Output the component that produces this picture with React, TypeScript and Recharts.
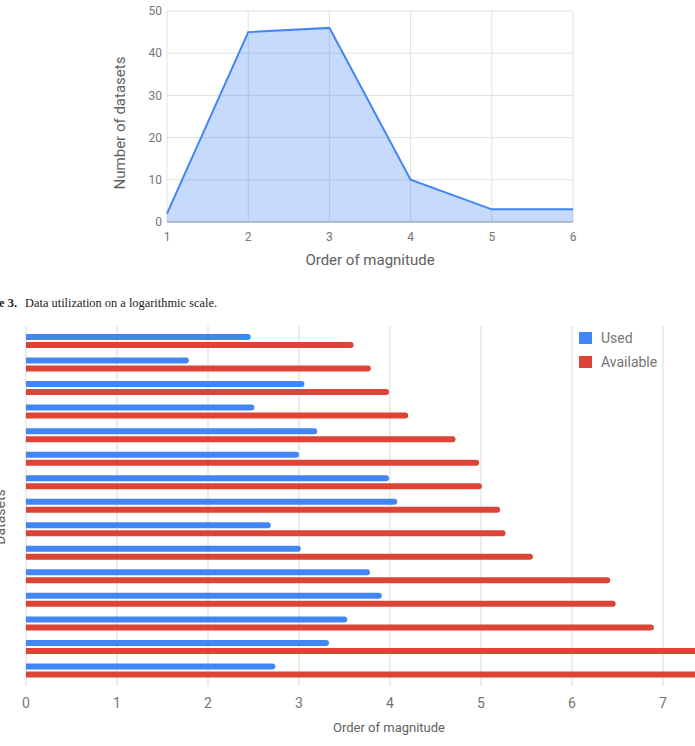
import React from "react";
import {
  AreaChart, Area, BarChart, Bar, XAxis, YAxis, CartesianGrid,
} from "recharts";

// top chart: how many datasets per order of magnitude
const magnitudes = [1, 2, 3, 4, 5, 6];
const datasetCounts = [2, 45, 46, 10, 3, 3];
const countTicks = [0, 10, 20, 30, 40, 50];

// bottom chart: used vs available data per dataset (log10 scale)
const datasetIds = ["D1", "D2", "D3", "D4", "D5", "D6", "D7", "D8", "D9", "D10", "D11", "D12", "D13", "D14", "D15"];
const usedValues = [2.47, 1.79, 3.06, 2.51, 3.2, 3.0, 3.99, 4.08, 2.69, 3.02, 3.78, 3.91, 3.53, 3.33, 2.74];
const availableValues = [3.6, 3.79, 3.99, 4.2, 4.72, 4.98, 5.01, 5.21, 5.27, 5.57, 6.42, 6.48, 6.9, 7.6, 7.9];
const orderTicks = [0, 1, 2, 3, 4, 5, 6, 7, 8];

const BLUE = "#4285f4";
const RED = "#db4437";
const GRID = "#e0e0e0";
const TICK = "#757575";
const FONT = "Roboto, 'Noto Sans', sans-serif";

export default function App() {
  const areaData = magnitudes.map((m, i) => ({ magnitude: m, count: datasetCounts[i] }));
  const barData = datasetIds.map((id, i) => ({
    id,
    used: usedValues[i],
    available: availableValues[i],
  }));

  const tickStyle = { fill: TICK, fontSize: 12, fontFamily: FONT };

  return (
    <div
      style={{
        position: "fixed",
        left: 0,
        top: 0,
        width: 695,
        height: 746,
        overflow: "hidden",
        background: "#fff",
        fontFamily: FONT,
      }}
    >
      {/* top area chart (svg starts above the page so the "50" tick has room) */}
      <div style={{ position: "absolute", left: 0, top: -20 }}>
        <AreaChart
          width={600}
          height={300}
          data={areaData}
          margin={{ top: 31, right: 27, bottom: 28, left: 120 }}
        >
          <CartesianGrid stroke={GRID} />
          <XAxis
            dataKey="magnitude"
            type="number"
            domain={[1, 6]}
            ticks={magnitudes}
            tickLine={false}
            axisLine={{ stroke: "#8c9bb5" }}
            tickSize={0}
            tickMargin={10}
            tick={tickStyle}
          />
          <YAxis
            width={47}
            domain={[0, 50]}
            ticks={countTicks}
            tickLine={false}
            axisLine={false}
            tickSize={0}
            tickMargin={5}
            tick={tickStyle}
          />
          <Area
            type="linear"
            dataKey="count"
            stroke={BLUE}
            strokeWidth={2}
            fill={BLUE}
            fillOpacity={0.3}
            isAnimationActive={false}
          />
        </AreaChart>
      </div>
      <div
        style={{
          position: "absolute",
          left: 120,
          top: 123,
          transform: "translate(-50%, -50%) rotate(-90deg)",
          fontSize: 15,
          color: "#616161",
          whiteSpace: "nowrap",
        }}
      >
        Number of datasets
      </div>
      <div
        style={{
          position: "absolute",
          left: 370,
          top: 260,
          transform: "translate(-50%, -50%)",
          fontSize: 15,
          color: "#616161",
          whiteSpace: "nowrap",
        }}
      >
        Order of magnitude
      </div>

      {/* caption, cut at the left edge like the source */}
      <div
        style={{
          position: "absolute",
          left: -100,
          width: 117,
          top: 296,
          textAlign: "right",
          fontFamily: "'Liberation Serif', serif",
          fontSize: 12.4,
          fontWeight: "bold",
          whiteSpace: "nowrap",
          color: "#222",
        }}
      >
        Figure 3.
      </div>
      <div
        style={{
          position: "absolute",
          left: 25,
          top: 296,
          fontFamily: "'Liberation Serif', serif",
          fontSize: 12.4,
          whiteSpace: "nowrap",
          color: "#222",
        }}
      >
        Data utilization on a logarithmic scale.
      </div>

      {/* bottom bar chart */}
      <div style={{ position: "absolute", left: 0, top: 300 }}>
        <BarChart
          width={760}
          height={446}
          data={barData}
          layout="vertical"
          margin={{ top: 26, right: 6, bottom: 30, left: 26 }}
          barSize={6}
          barGap={2}
        >
          <CartesianGrid stroke="#d9d9d9" horizontal={false} />
          <XAxis
            type="number"
            domain={[0, 8]}
            ticks={orderTicks}
            tickLine={false}
            axisLine={false}
            tickSize={0}
            tickMargin={12}
            tick={{ ...tickStyle, fontSize: 14 }}
          />
          <YAxis
            type="category"
            dataKey="id"
            width={0}
            tick={false}
            tickLine={false}
            axisLine={{ stroke: "#444" }}
            padding={{ top: 3, bottom: 4 }}
          />
          <Bar dataKey="used" fill={BLUE} radius={[0, 3, 3, 0]} isAnimationActive={false} />
          <Bar dataKey="available" fill={RED} radius={[0, 3, 3, 0]} isAnimationActive={false} />
        </BarChart>
      </div>
      <div
        style={{
          position: "absolute",
          left: 0,
          top: 517,
          transform: "translate(-50%, -50%) rotate(-90deg)",
          fontSize: 14,
          lineHeight: "14px",
          color: "#616161",
          whiteSpace: "nowrap",
        }}
      >
        Datasets
      </div>
      <div
        style={{
          position: "absolute",
          left: 389,
          top: 727,
          transform: "translate(-50%, -50%)",
          fontSize: 13,
          color: "#616161",
          whiteSpace: "nowrap",
        }}
      >
        Order of magnitude
      </div>

      {/* legend */}
      {[
        { label: "Used", color: BLUE, top: 332 },
        { label: "Available", color: RED, top: 356 },
      ].map((item) => (
        <div key={item.label}>
          <div
            style={{
              position: "absolute",
              left: 579,
              top: item.top,
              width: 13,
              height: 12,
              background: item.color,
            }}
          />
          <div
            style={{
              position: "absolute",
              left: 601,
              top: item.top + 6,
              transform: "translateY(-50%)",
              fontSize: 14,
              color: TICK,
              whiteSpace: "nowrap",
            }}
          >
            {item.label}
          </div>
        </div>
      ))}
    </div>
  );
}
